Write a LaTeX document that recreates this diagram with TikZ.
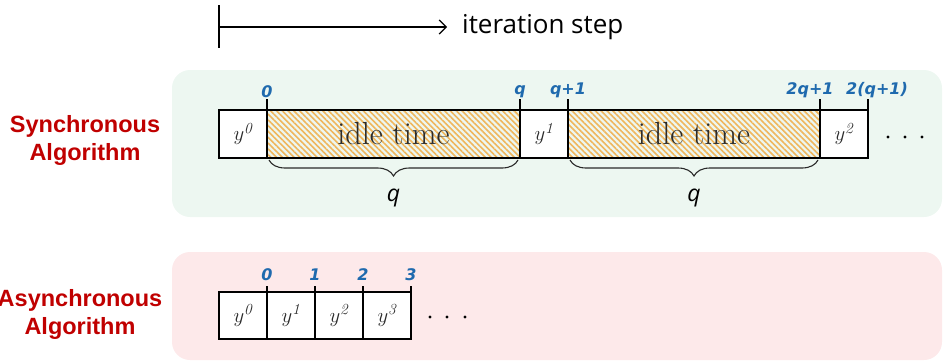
\documentclass[tikz,border=0pt]{standalone}
\usepackage{fontspec}
\setsansfont{Open Sans}
\newfontfamily\algofont{Liberation Sans}
\newfontfamily\tickfont{DejaVu Sans}
\usetikzlibrary{patterns.meta,decorations.pathreplacing,arrows.meta}

\definecolor{panelgreen}{HTML}{EDF7F1}
\definecolor{panelpink}{HTML}{FDE9EA}
\definecolor{algred}{HTML}{C00000}
\definecolor{tickblue}{HTML}{1F6AAE}
\definecolor{hatchorange}{HTML}{F0B65C}
\definecolor{inkgray}{HTML}{2A2A2A}

\tikzset{
  cell/.style={draw=black, fill=white, line width=1.3pt, minimum height=48pt,
    minimum width=48pt, inner sep=0pt, outer sep=0pt, anchor=west, text=inkgray,
    font=\fontsize{22}{22}\selectfont},
  acell/.style={cell, minimum height=47pt},
  idle/.style={cell, pattern={Lines[angle=-45,distance=4.1pt,line width=1.6pt]},
    pattern color=hatchorange, font=\fontsize{32}{32}\selectfont\rmfamily},
  tickline/.style={line width=1.3pt, black},
  ticklbl/.style={anchor=south, inner sep=1pt, text=tickblue,
    font=\tickfont\bfseries\itshape\fontsize{16}{16}\selectfont},
  algolbl/.style={align=center, text=algred,
    font=\algofont\bfseries\fontsize{23.5}{28}\selectfont},
  bracestyle/.style={decorate, decoration={brace, mirror, amplitude=16pt},
    line width=1.1pt, inkgray},
  qlbl/.style={font=\sffamily\itshape\fontsize{23}{23}\selectfont, text=black},
  dot/.style={fill=black, circle, inner sep=0pt, minimum size=3.2pt},
}

\newcommand{\sq}[1]{$y^{\mathit{#1}}$}

\begin{document}
\begin{tikzpicture}[x=1pt,y=1pt]
\useasboundingbox (0,-362) rectangle (943,0);

% background panels
\fill[panelgreen, rounded corners=18pt] (172,-70) rectangle (942,-217);
\fill[panelpink, rounded corners=18pt] (172,-252) rectangle (942,-360);

% iteration axis
\coordinate (axis0) at (219,-27);
\draw[line width=1.2pt] (219,-5) -- (219,-48);
\node[anchor=west, inner sep=0pt, font=\sffamily\fontsize{26}{26}\selectfont] (itlbl) at (462,-27) {iteration step};
\draw[line width=1.2pt, -{Straight Barb[length=7pt,width=14pt,line width=1.2pt]}] (axis0) -- ([xshift=-15pt]itlbl.west);

% synchronous schedule
\node[algolbl] (synclbl) at (85,-140) {Synchronous\\Algorithm};
\node[cell] (s0) at (219,-134) {\sq{0}};
\node[idle, minimum width=253pt] (i1) at (s0.east) {idle time};
\node[cell] (s1) at (i1.east) {\sq{1}};
\node[idle, minimum width=252pt] (i2) at (s1.east) {idle time};
\node[cell] (s2) at (i2.east) {\sq{2}};
\node[dot] (sd1) at (888,-137) {};
\node[dot] (sd2) at (905,-137) {};
\node[dot] (sd3) at (922,-137) {};

\draw[tickline] (i1.north west) -- ++(0,11) coordinate (ts0);
\draw[tickline] (i1.north east) -- ++(0,11) coordinate (ts1);
\draw[tickline] (i2.north west) -- ++(0,11) coordinate (ts2);
\draw[tickline] (i2.north east) -- ++(0,11) coordinate (ts3);
\draw[tickline] (s2.north east) -- ++(0,11) coordinate (ts4);
\node[ticklbl] (ls0) at (ts0) {0};
\node[ticklbl] (ls1) at (ts1) {q};
\node[ticklbl] (ls2) at (ts2) {q+1};
\node[ticklbl, xshift=-10pt] (ls3) at (ts3) {2q+1};
\node[ticklbl, xshift=9pt] (ls4) at (ts4) {2(q+1)};

\draw[bracestyle] ([xshift=2pt,yshift=-2pt]i1.south west) -- ([xshift=-2pt,yshift=-2pt]i1.south east);
\draw[bracestyle] ([xshift=2pt,yshift=-2pt]i2.south west) -- ([xshift=-2pt,yshift=-2pt]i2.south east);
\node[qlbl] (q1) at ([yshift=-40pt]i1.south) {q};
\node[qlbl] (q2) at ([yshift=-40pt]i2.south) {q};

% asynchronous schedule
\node[algolbl] (asynclbl) at (80,-314) {Asynchronous\\Algorithm};
\node[acell] (a0) at (219,-315.5) {\sq{0}};
\node[acell] (a1) at (a0.east) {\sq{1}};
\node[acell] (a2) at (a1.east) {\sq{2}};
\node[acell] (a3) at (a2.east) {\sq{3}};
\node[dot] (ad1) at (430,-317) {};
\node[dot] (ad2) at (447,-317) {};
\node[dot] (ad3) at (465,-317) {};

\draw[tickline] (a0.north east) -- ++(0,6) coordinate (ta0);
\draw[tickline] (a1.north east) -- ++(0,6) coordinate (ta1);
\draw[tickline] (a2.north east) -- ++(0,6) coordinate (ta2);
\draw[tickline] (a3.north east) -- ++(0,6) coordinate (ta3);
\node[ticklbl, yshift=4pt] (la0) at (ta0) {0};
\node[ticklbl, yshift=4pt] (la1) at (ta1) {1};
\node[ticklbl, yshift=4pt] (la2) at (ta2) {2};
\node[ticklbl, yshift=4pt] (la3) at (ta3) {3};
\end{tikzpicture}
\end{document}
